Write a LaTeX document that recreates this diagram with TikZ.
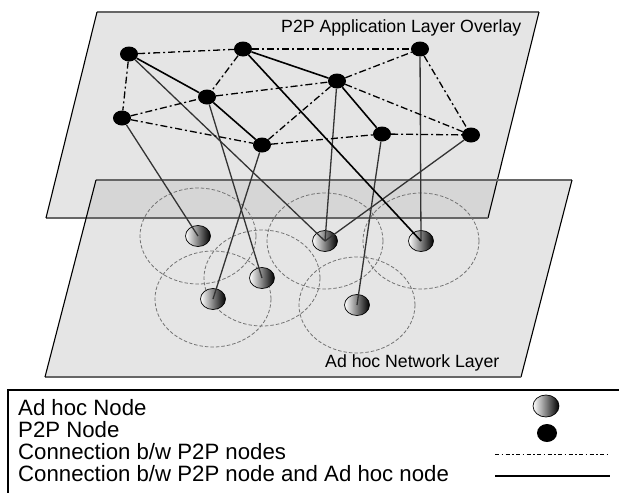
\documentclass[tikz,border=0pt]{standalone}
\usepackage{fontspec}
\setmainfont{Liberation Sans}
\usetikzlibrary{shapes.geometric}
\begin{document}
\begin{tikzpicture}[x=1pt,y=-1pt,
  p2p/.style={ellipse, fill=black, minimum width=18pt, minimum height=15pt, inner sep=0pt},
  adhoc/.style={ellipse, draw=black, line width=0.7pt, left color=white, right color=black, minimum width=25pt, minimum height=21pt, inner sep=0pt},
  pp/.style={line width=1.3pt, dash pattern=on 7pt off 3pt on 2pt off 3pt},
  ppsolid/.style={line width=1.6pt},
  link/.style={black!80, line width=1.3pt},
  rangeell/.style={black!55, line width=0.8pt, dash pattern=on 3.5pt off 2pt},
  planefill/.style={fill=black!10},
  hedge/.style={black!60, line width=1.1pt},
  sedge/.style={black, line width=1.1pt},
  lbl/.style={font=\fontsize{17.7}{20}\selectfont, anchor=base west, inner sep=0pt},
  leg/.style={font=\fontsize{22.2}{24}\selectfont, anchor=base west, inner sep=0pt}]
\useasboundingbox (0,0) rectangle (619,493);
\clip (0,0) rectangle (619,493);
% planes
\fill[planefill] (97,12) -- (539,12) -- (488,218) -- (46,218) -- cycle;
\fill[planefill] (96,180) -- (572,180) -- (521,377) -- (45,377) -- cycle;
\fill[black!16] (96,180) -- (497.3,180) -- (488,218) -- (86.2,218) -- cycle;
\draw[hedge] (97,12) -- (539,12);
\draw[sedge] (539,12) -- (488,218);
\draw[hedge] (488,218) -- (46,218);
\draw[sedge] (46,218) -- (97,12);
\draw[hedge] (96,180) -- (572,180);
\draw[sedge] (572,180) -- (521,377);
\draw[hedge] (521,377) -- (45,377);
\draw[sedge] (45,377) -- (96,180);
\node[lbl] (t1) at (281,32.5) {P2P Application Layer Overlay};
\node[lbl] (t2) at (325,367) {Ad hoc Network Layer};
% ad hoc nodes positions
\coordinate (c1) at (198,236);
\coordinate (c2) at (213,299);
\coordinate (c3) at (262,278);
\coordinate (c4) at (325,241);
\coordinate (c5) at (421,241);
\coordinate (c6) at (357,305);
\foreach \c in {c1,c2,c3,c4,c5,c6}
  \draw[rangeell] (\c) ellipse [x radius=58, y radius=48];
\node[adhoc] (a1) at (c1) {};
\node[adhoc] (a2) at (c2) {};
\node[adhoc] (a3) at (c3) {};
\node[adhoc] (a4) at (c4) {};
\node[adhoc] (a5) at (c5) {};
\node[adhoc] (a6) at (c6) {};
% P2P nodes
\node[p2p] (A) at (129,54) {};
\node[p2p] (B) at (122,118) {};
\node[p2p] (C) at (243,49) {};
\node[p2p] (D) at (337,81) {};
\node[p2p] (E) at (262,145) {};
\node[p2p] (F) at (382,134) {};
\node[p2p] (G) at (207,97) {};
\node[p2p] (H) at (420,49) {};
\node[p2p] (I) at (471,135) {};
% links P2P -> ad hoc
\draw[link] (B) -- (a1.center);
\draw[link] (A) -- (a4.center);
\draw[link] (G) -- (a3.center);
\draw[link] (E) -- (a2.center);
\draw[link] (D) -- (a4.center);
\draw[link] (F) -- (a6.center);
\draw[link] (H) -- (a5.center);
\draw[link] (I) -- (a4.center);
\draw[ppsolid] (C) -- (a5.center);
% P2P overlay links
\draw[pp] (A) -- (C);
\draw[pp] (C) -- (H);
\draw[pp] (A) -- (B);
\draw[pp] (C) -- (G);
\draw[pp] (B) -- (G);
\draw[pp] (G) -- (D);
\draw[pp] (B) -- (E);
\draw[pp] (E) -- (D);
\draw[pp] (E) -- (F);
\draw[pp] (F) -- (I);
\draw[pp] (D) -- (I);
\draw[pp] (D) -- (H);
\draw[pp] (H) -- (I);
\draw[ppsolid] (A) -- (G);
\draw[ppsolid] (G) -- (E);
\draw[ppsolid] (C) -- (D);
\draw[ppsolid] (D) -- (F);
% legend
\draw[line width=1.3pt] (8,390) rectangle (640,520);
\node[leg] (l1) at (18,415.5) {Ad hoc Node};
\node[leg] (l2) at (18,437.5) {P2P Node};
\node[leg] (l3) at (18,459.5) {Connection b/w P2P nodes};
\node[leg] (l4) at (18,481.5) {Connection b/w P2P node and Ad hoc node};
\node[adhoc, minimum width=26pt, minimum height=22pt] (la) at (546,406) {};
\node[p2p, minimum width=20pt, minimum height=18pt] (lp) at (547,433) {};
\coordinate (d1) at (495,454);
\coordinate (d2) at (607,454);
\coordinate (s1) at (495,476);
\coordinate (s2) at (610,476);
\draw[line width=1pt, dash pattern=on 4pt off 2.5pt on 1.5pt off 2.5pt] (d1) -- (d2);
\draw[line width=1.3pt] (s1) -- (s2);
\end{tikzpicture}
\end{document}
